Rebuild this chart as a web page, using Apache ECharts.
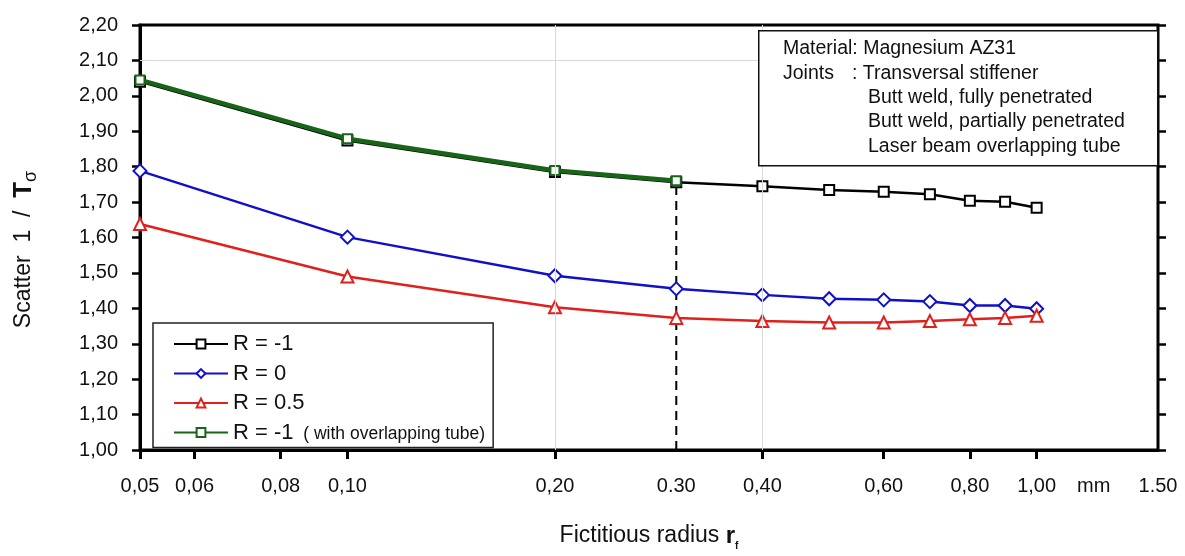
<!DOCTYPE html>
<html><head><meta charset="utf-8">
<script src="https://cdn.jsdelivr.net/npm/echarts@6/dist/echarts.min.js"></script>
<style>html,body{margin:0;padding:0;background:#fff}#c{width:1185px;height:556px}</style>
</head><body><div id="c"></div>
<script>
// ---- data ----
const radii = [0.05, 0.1, 0.2, 0.3, 0.4, 0.5, 0.6, 0.7, 0.8, 0.9, 1.0];
const rMinus1 = [2.040, 1.874, 1.785, 1.756, 1.745, 1.734, 1.729, 1.722, 1.704, 1.701, 1.684];
const rZero = [1.788, 1.601, 1.492, 1.455, 1.438, 1.427, 1.424, 1.419, 1.408, 1.408, 1.399];
const rHalf = [1.638, 1.490, 1.403, 1.373, 1.364, 1.360, 1.360, 1.364, 1.369, 1.373, 1.379];
const overlapRadii = [0.05, 0.1, 0.2, 0.3];
const rMinus1Overlap = [2.045, 1.879, 1.789, 1.760];
const seriesNames = ['R = -1', 'R = 0', 'R = 0.5', 'R = -1 overlap'];
const xLabelValues = [0.05, 0.06, 0.08, 0.1, 0.2, 0.3, 0.4, 0.6, 0.8, 1.0, 1.21, 1.5];
const xLabelTexts = ['0,05', '0,06', '0,08', '0,10', '0,20', '0.30', '0,40', '0,60', '0,80', '1,00', 'mm', '1.50'];
const xTickValues = [0.05, 0.06, 0.08, 0.1, 0.2, 0.4, 0.6, 0.8, 1.0];
const refLineX = [0.3, 0.3];
const refLineY = [1.0, 1.756];
const gridLinesX = [0.2, 0.4];
const gridLinesY = [2.1];
const infoLines = ['Material: Magnesium AZ31', 'Joints', ': Transversal stiffener',
  'Butt weld, fully penetrated', 'Butt weld, partially penetrated', 'Laser beam overlapping tube'];

const FONT = '"Liberation Sans", Arial, sans-serif';
const pair = (xs, ys) => xs.map((x, i) => [x, ys[i]]);

function xLabel(v) {
  for (let i = 0; i < xLabelValues.length; i++) {
    if (Math.abs(Math.log(v) - Math.log(xLabelValues[i])) < 1e-4) return xLabelTexts[i];
  }
  return '';
}
const infoFont = '19.5px ' + FONT;

const chart = echarts.init(document.getElementById('c'));
chart.setOption({
  animation: false,
  textStyle: { fontFamily: FONT },
  grid: { left: 140, right: 27, top: 25, bottom: 99, show: true, borderColor: '#000', borderWidth: 3 },
  xAxis: {
    type: 'log', min: 0.05, max: 1.5, logBase: 10,
    axisLine: { show: true, lineStyle: { color: '#000', width: 3 } },
    axisTick: { show: true, inside: false, length: 9, lineStyle: { color: '#000', width: 3 }, customValues: xTickValues },
    axisLabel: { show: true, margin: 26, fontSize: 20, color: '#111', fontFamily: FONT, customValues: xLabelValues, formatter: xLabel },
    splitLine: { show: false },
    minorTick: { show: false },
    name: '{n|Fictitious radius }{b|r}{s|f}',
    nameLocation: 'middle', nameGap: 71,
    nameTextStyle: {
      fontFamily: FONT, color: '#111',
      rich: {
        n: { fontSize: 23, lineHeight: 30, verticalAlign: 'middle', fontFamily: FONT, color: '#111' },
        b: { fontSize: 24, fontWeight: 'bold', lineHeight: 30, verticalAlign: 'middle', fontFamily: FONT, color: '#111' },
        s: { fontSize: 10, fontWeight: 'bold', lineHeight: 12, verticalAlign: 'bottom', fontFamily: FONT, color: '#111' }
      }
    }
  },
  yAxis: [{
    type: 'value', min: 1.0, max: 2.2, interval: 0.1, position: 'left',
    axisLine: { show: true, lineStyle: { color: '#000', width: 3 } },
    axisTick: { show: true, length: 8, lineStyle: { color: '#000', width: 2.5 } },
    axisLabel: { margin: 22, fontSize: 20, color: '#111', fontFamily: FONT, formatter: v => v.toFixed(2).replace('.', ',') },
    splitLine: { show: false },
    name: '{n|Scatter  1  /  }{b|T}{s|σ}',
    nameLocation: 'middle', nameGap: 100, nameRotate: 90,
    nameTextStyle: {
      fontFamily: FONT, color: '#111', padding: [0, 24, 0, 0],
      rich: {
        n: { fontSize: 23, lineHeight: 32, verticalAlign: 'middle', fontFamily: FONT, color: '#111' },
        b: { fontSize: 26, fontWeight: 'bold', lineHeight: 32, verticalAlign: 'middle', fontFamily: FONT, color: '#111' },
        s: { fontSize: 18, lineHeight: 18, verticalAlign: 'bottom', fontFamily: FONT, color: '#111' }
      }
    }
  }, {
    type: 'value', min: 1.0, max: 2.2, interval: 0.1, position: 'right',
    axisLine: { show: false },
    axisTick: { show: true, length: 8, lineStyle: { color: '#000', width: 2.5 } },
    axisLabel: { show: false },
    splitLine: { show: false }
  }],
  legend: {
    data: seriesNames,
    orient: 'vertical', left: 153, top: 323,
    padding: [10, 8, 4, 20],
    itemWidth: 54, itemHeight: 11, itemGap: 7.5,
    borderColor: '#222', borderWidth: 1.5, backgroundColor: '#fff',
    formatter: name => name === 'R = -1 overlap' ? '{a|R = -1}{c|  ( with overlapping tube)}' : '{a|' + name + '}',
    textStyle: {
      color: '#111', fontFamily: FONT,
      rich: {
        a: { fontSize: 22, lineHeight: 21, fontFamily: FONT, color: '#111' },
        c: { fontSize: 17.5, lineHeight: 21, fontFamily: FONT, color: '#111', padding: [4, 0, 0, 0] }
      }
    }
  },
  graphic: [
    { type: 'rect', left: 758, top: 30, z: 100, shape: { width: 399, height: 135 }, style: { fill: '#fff', stroke: '#111', lineWidth: 1.5 } },
    { type: 'text', left: 783, top: 39, z: 101, style: { text: infoLines[0], font: infoFont, fill: '#111' } },
    { type: 'text', left: 783, top: 64, z: 101, style: { text: infoLines[1], font: infoFont, fill: '#111' } },
    { type: 'text', left: 852, top: 64, z: 101, style: { text: infoLines[2], font: infoFont, fill: '#111' } },
    { type: 'text', left: 868, top: 88, z: 101, style: { text: infoLines[3], font: infoFont, fill: '#111' } },
    { type: 'text', left: 868, top: 112, z: 101, style: { text: infoLines[4], font: infoFont, fill: '#111' } },
    { type: 'text', left: 868, top: 137, z: 101, style: { text: infoLines[5], font: infoFont, fill: '#111' } }
  ],
  series: [
    {
      name: 'gridlines', type: 'line', data: [], silent: true, z: 1,
      markLine: {
        silent: true, symbol: 'none', label: { show: false },
        lineStyle: { color: '#d8d8d8', width: 1, type: 'solid' },
        data: gridLinesX.map(x => ({ xAxis: x })).concat(gridLinesY.map(y => ({ yAxis: y })))
      }
    },
    {
      name: 'ref', type: 'line', data: pair(refLineX, refLineY), symbol: 'none', z: 2, silent: true,
      lineStyle: { color: '#000', width: 2, type: [9, 6] }
    },
    {
      name: seriesNames[0], type: 'line', data: pair(radii, rMinus1), z: 3,
      symbol: 'emptyRect', symbolSize: 10,
      lineStyle: { color: '#000', width: 2.5 },
      itemStyle: { color: '#000', borderColor: '#333', borderWidth: 1.2 }
    },
    {
      name: seriesNames[1], type: 'line', data: pair(radii, rZero), z: 3,
      symbol: 'emptyDiamond', symbolSize: 13,
      lineStyle: { color: '#1010c8', width: 2.5 },
      itemStyle: { color: '#1010c8', borderColor: '#6060a8', borderWidth: 1 }
    },
    {
      name: seriesNames[2], type: 'line', data: pair(radii, rHalf), z: 3,
      symbol: 'emptyTriangle', symbolSize: 12,
      lineStyle: { color: '#e0201c', width: 2.5 },
      itemStyle: { color: '#e0201c', borderColor: '#b04040', borderWidth: 1 }
    },
    {
      name: seriesNames[3], type: 'line', data: pair(overlapRadii, rMinus1Overlap), z: 4,
      symbol: 'emptyRect', symbolSize: 9,
      lineStyle: { color: '#186418', width: 4.5 },
      itemStyle: { color: '#186418', borderColor: '#6a8a6a', borderWidth: 1 }
    }
  ]
});
</script>
</body></html>
